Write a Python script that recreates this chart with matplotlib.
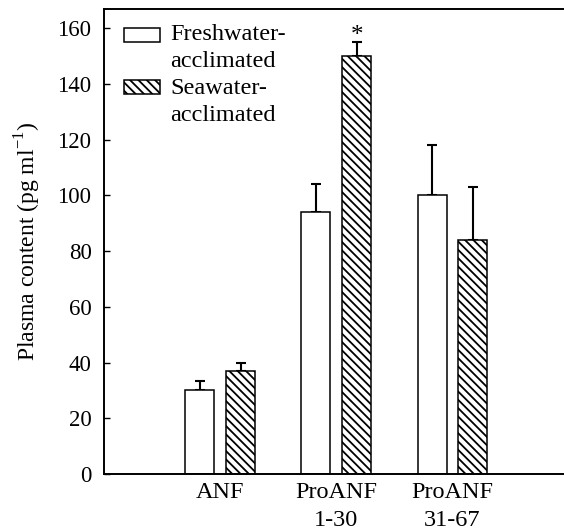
import numpy as np
import matplotlib.pyplot as plt
from matplotlib.patches import Rectangle

plt.rcParams['font.family'] = ['Liberation Serif', 'DejaVu Serif']
plt.rcParams['mathtext.fontset'] = 'custom'
plt.rcParams['mathtext.rm'] = 'Liberation Serif'
plt.rcParams['hatch.linewidth'] = 1.3

# peptide groups and plasma levels (pg/ml), upper SEM only
groups = ['ANF', 'ProANF\n1-30', 'ProANF\n31-67']
fresh = [30, 94, 100]
fresh_err = [3.5, 10, 18]
sea = [37, 150, 84]
sea_err = [3, 5, 19]
significant = [False, True, False]  # seawater vs freshwater

x = np.arange(1, len(groups) + 1)
w = 0.25
off = 0.176
hatch = '\\\\\\\\'

fig = plt.figure(figsize=(5.64, 5.32), dpi=100)
ax = fig.add_axes([0.1844, 0.109, 0.8156, 0.874])

ax.bar(x - off, fresh, w, color='white', edgecolor='black', linewidth=1.1, zorder=2)
ax.bar(x + off, sea, w, color='white', edgecolor='black', linewidth=1.1,
       hatch=hatch, zorder=2)
ax.errorbar(x - off, fresh, yerr=[np.zeros(3), fresh_err], fmt='none',
            ecolor='black', elinewidth=1.5, capsize=3.6, capthick=1.5, zorder=1)
ax.errorbar(x + off, sea, yerr=[np.zeros(3), sea_err], fmt='none',
            ecolor='black', elinewidth=1.5, capsize=3.6, capthick=1.5, zorder=1)

for xi, v, e, s in zip(x, sea, sea_err, significant):
    if s:
        ax.annotate('*', (xi + off, v + e), xytext=(0, -3.5), textcoords='offset points',
                    ha='center', va='bottom', fontsize=18)

ax.set_xlim(0, 3.96)
ax.set_ylim(0, 166.8)
ax.set_yticks(np.arange(0, 161, 20))
ax.set_xticks(x)
ax.set_xticklabels(groups, fontsize=17.5, linespacing=1.39)
ax.tick_params(axis='y', direction='in', length=4, width=1, labelsize=16.5, pad=9)
ax.tick_params(axis='x', length=0, pad=6)
ax.set_ylabel('Plasma content (pg ml$^{-1}$)', fontsize=17, labelpad=10)

ax.spines['right'].set_visible(False)
for s in ['left', 'bottom', 'top']:
    ax.spines[s].set_linewidth(1.4)

# legend; boxes sit beside the first line, text anchored on its last line
for y0, ybase, h, lab in [(0.929, 0.875, '', 'Freshwater-\nacclimated'),
                          (0.817, 0.759, hatch, 'Seawater-\nacclimated')]:
    ax.add_patch(Rectangle((0.0435, y0), 0.078, 0.031, transform=ax.transAxes,
                           facecolor='white', edgecolor='black', linewidth=1.1,
                           hatch=h, clip_on=False))
    ax.text(0.1435, ybase, lab, transform=ax.transAxes, fontsize=17.5,
            va='baseline', ha='left', linespacing=1.39)

fig.savefig('out.png', dpi=100)
